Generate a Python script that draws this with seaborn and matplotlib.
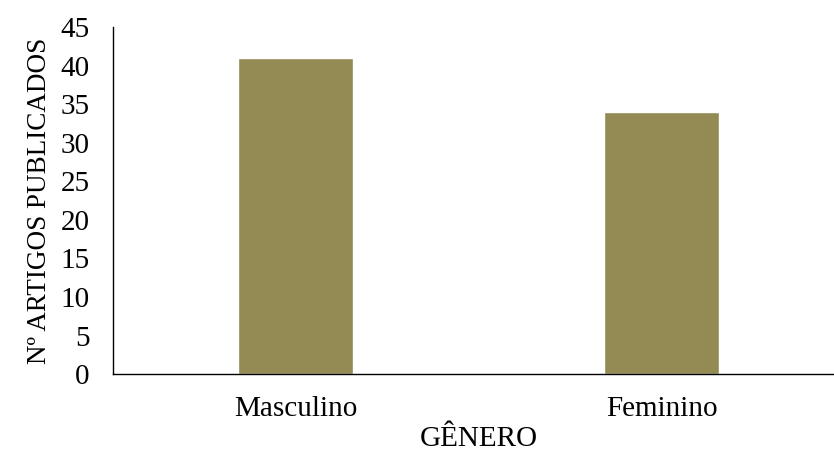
import matplotlib
matplotlib.use("Agg")
import matplotlib.pyplot as plt
import seaborn as sns
import pandas as pd

categories = ["Masculino", "Feminino"]
values = [41, 34]
yticks = [0, 5, 10, 15, 20, 25, 30, 35, 40, 45]

sns.set_theme(style="white")
plt.rcParams["font.family"] = ["Liberation Serif", "DejaVu Serif"]

df = pd.DataFrame({"genero": categories, "artigos": values})

fig = plt.figure(figsize=(8.34, 4.54), dpi=100)
ax = fig.add_axes([0.1355, 0.176, 0.877, 0.7645])

sns.barplot(data=df, x="genero", y="artigos", color="#948A54",
            width=0.315, saturation=1, ax=ax)

ax.set_xlim(-0.5, 1.5)
ax.set_ylim(0, 45)
ax.set_yticks(yticks)
ax.set_yticklabels([str(t) for t in yticks])
ax.tick_params(axis="both", length=0, labelsize=21, colors="#000000")
ax.tick_params(axis="x", pad=16)
ax.tick_params(axis="y", pad=17)

ax.set_xlabel("GÊNERO", fontsize=21, color="#000000", labelpad=3)
ax.set_ylabel("Nº ARTIGOS PUBLICADOS", fontsize=19.5, color="#000000", labelpad=6)

for side in ["top", "right"]:
    ax.spines[side].set_visible(False)
for side in ["left", "bottom"]:
    ax.spines[side].set_color("#000000")
    ax.spines[side].set_linewidth(1.0)

fig.savefig("out.png", dpi=100)
